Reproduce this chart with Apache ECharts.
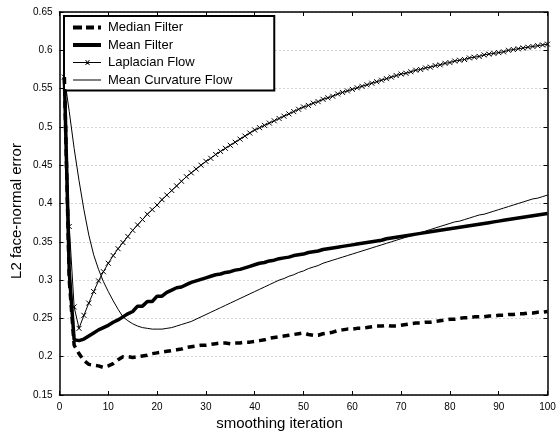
<!DOCTYPE html>
<html>
<head>
<meta charset="utf-8">
<script src="https://cdn.jsdelivr.net/npm/echarts@6/dist/echarts.min.js"></script>
<style>
  html, body { margin: 0; padding: 0; background: #fff; }
  #chart { width: 559px; height: 441px; }
</style>
</head>
<body>
<div id="chart"></div>
<script>
// smoothing iterations 1..100
const iterations = Array.from({ length: 100 }, (_, i) => i + 1);

const seriesNames = ['Median Filter', 'Mean Filter', 'Laplacian Flow', 'Mean Curvature Flow'];

const medianFilter = [
  0.565, 0.300, 0.215, 0.204, 0.195, 0.190, 0.189, 0.188, 0.186, 0.188,
  0.191, 0.196, 0.200, 0.200, 0.199, 0.200, 0.201, 0.202, 0.204, 0.205,
  0.206, 0.207, 0.208, 0.209, 0.210, 0.212, 0.213, 0.214, 0.215, 0.215,
  0.216, 0.217, 0.218, 0.218, 0.217, 0.218, 0.218, 0.219, 0.219, 0.220,
  0.221, 0.222, 0.224, 0.225, 0.226, 0.227, 0.228, 0.229, 0.230, 0.231,
  0.229, 0.228, 0.228, 0.230, 0.231, 0.232, 0.234, 0.235, 0.236, 0.236,
  0.237, 0.237, 0.238, 0.239, 0.240, 0.240, 0.241, 0.240, 0.240, 0.241,
  0.242, 0.243, 0.244, 0.244, 0.245, 0.245, 0.246, 0.247, 0.248, 0.249,
  0.249, 0.250, 0.251, 0.251, 0.252, 0.252, 0.252, 0.253, 0.253, 0.254,
  0.254, 0.255, 0.255, 0.256, 0.256, 0.257, 0.257, 0.258, 0.258, 0.259
];

const meanFilter = [
  0.565, 0.310, 0.222, 0.221, 0.223, 0.227, 0.231, 0.235, 0.238, 0.241,
  0.245, 0.248, 0.252, 0.256, 0.259, 0.266, 0.266, 0.272, 0.272, 0.279,
  0.279, 0.284, 0.287, 0.290, 0.291, 0.294, 0.297, 0.299, 0.301, 0.303,
  0.305, 0.307, 0.308, 0.310, 0.311, 0.313, 0.314, 0.316, 0.318, 0.320,
  0.322, 0.323, 0.325, 0.326, 0.328, 0.329, 0.330, 0.332, 0.333, 0.334,
  0.336, 0.337, 0.338, 0.340, 0.341, 0.342, 0.343, 0.344, 0.345, 0.346,
  0.347, 0.348, 0.349, 0.350, 0.351, 0.352, 0.354, 0.355, 0.356, 0.357,
  0.358, 0.359, 0.360, 0.361, 0.362, 0.363, 0.364, 0.365, 0.366, 0.367,
  0.368, 0.369, 0.370, 0.371, 0.372, 0.373, 0.374, 0.375, 0.376, 0.377,
  0.378, 0.379, 0.380, 0.381, 0.382, 0.383, 0.384, 0.385, 0.386, 0.387
];

const laplacianFlow = [
  0.565, 0.370, 0.265, 0.237, 0.254, 0.270, 0.285, 0.299, 0.311, 0.322,
  0.332, 0.341, 0.349, 0.357, 0.365, 0.372, 0.379, 0.386, 0.392, 0.398,
  0.405, 0.411, 0.417, 0.423, 0.429, 0.435, 0.440, 0.445, 0.450, 0.455,
  0.459, 0.464, 0.468, 0.472, 0.476, 0.480, 0.484, 0.488, 0.492, 0.496,
  0.499, 0.502, 0.505, 0.508, 0.511, 0.514, 0.517, 0.520, 0.523, 0.526,
  0.528, 0.531, 0.533, 0.536, 0.538, 0.540, 0.543, 0.545, 0.547, 0.549,
  0.551, 0.553, 0.555, 0.557, 0.559, 0.561, 0.563, 0.565, 0.567, 0.569,
  0.570, 0.572, 0.574, 0.575, 0.577, 0.578, 0.580, 0.581, 0.583, 0.584,
  0.586, 0.587, 0.588, 0.590, 0.591, 0.592, 0.594, 0.595, 0.596, 0.597,
  0.598, 0.600, 0.601, 0.602, 0.603, 0.604, 0.605, 0.606, 0.607, 0.608
];

const meanCurvatureFlow = [
  0.565, 0.520, 0.472, 0.430, 0.392, 0.359, 0.333, 0.314, 0.298, 0.285,
  0.273, 0.262, 0.252, 0.247, 0.243, 0.240, 0.238, 0.237, 0.236, 0.236,
  0.236, 0.237, 0.238, 0.240, 0.242, 0.244, 0.246, 0.249, 0.252, 0.255,
  0.258, 0.261, 0.264, 0.267, 0.270, 0.273, 0.276, 0.279, 0.282, 0.285,
  0.288, 0.291, 0.294, 0.297, 0.300, 0.302, 0.305, 0.307, 0.310, 0.312,
  0.315, 0.317, 0.319, 0.322, 0.324, 0.326, 0.328, 0.330, 0.332, 0.334,
  0.336, 0.338, 0.340, 0.342, 0.344, 0.346, 0.348, 0.350, 0.352, 0.354,
  0.356, 0.358, 0.360, 0.362, 0.364, 0.366, 0.368, 0.370, 0.372, 0.374,
  0.376, 0.377, 0.379, 0.381, 0.383, 0.385, 0.386, 0.388, 0.390, 0.392,
  0.394, 0.396, 0.398, 0.400, 0.402, 0.404, 0.406, 0.407, 0.409, 0.411
];

const yTickLabels = ['0.15', '0.2', '0.25', '0.3', '0.35', '0.4', '0.45', '0.5', '0.55', '0.6', '0.65'];
const xTickLabels = ['0', '10', '20', '30', '40', '50', '60', '70', '80', '90', '100'];

const FONT = '"Liberation Sans", Arial, Helvetica, sans-serif';

const pairs = arr => iterations.map((x, i) => [x, arr[i]]);

// legend samples, drawn as filled paths so no circle shows up
const legendIcons = [
  'path://M0,0h9v4h-9zM13,0h8v4h-8zM25,0h3v4h-3z',
  'path://M0,0h28v4h-28z',
  'path://M0,2h28v1h-28zM12,0h1l4,5h-1zM16,0h1l-4,5h-1z',
  'path://M0,0h28v1h-28z'
];

const chart = echarts.init(document.getElementById('chart'), null, { renderer: 'canvas' });

const axisLine = { show: true, onZero: false, lineStyle: { color: '#000', width: 1.5 } };
const innerTick = { show: true, inside: true, length: 4, lineStyle: { color: '#000', width: 1 } };

const option = {
  backgroundColor: '#fff',
  animation: false,
  textStyle: { fontFamily: FONT },
  grid: { left: 59.5, top: 12, right: 11.5, bottom: 46, containLabel: false },
  xAxis: [
    {
      type: 'value', min: 0, max: 100, interval: 10,
      axisLine: axisLine, axisTick: innerTick,
      axisLabel: {
        color: '#000', fontSize: 10, fontFamily: FONT, margin: 7,
        formatter: v => xTickLabels[Math.round(v / 10)]
      },
      splitLine: { show: false }
    },
    {
      type: 'value', position: 'top', min: 0, max: 100, interval: 10,
      axisLine: axisLine, axisTick: innerTick,
      axisLabel: { show: false }, splitLine: { show: false }
    }
  ],
  yAxis: [
    {
      type: 'value', min: 0.15, max: 0.65, interval: 0.05,
      axisLine: axisLine, axisTick: innerTick,
      axisLabel: {
        color: '#000', fontSize: 10, fontFamily: FONT, margin: 7,
        formatter: v => yTickLabels[Math.round((v - 0.15) / 0.05)]
      },
      splitLine: { show: true, lineStyle: { color: '#aaa', width: 1, type: [1, 3] } }
    },
    {
      type: 'value', position: 'right', min: 0.15, max: 0.65, interval: 0.05,
      axisLine: axisLine, axisTick: innerTick,
      axisLabel: { show: false }, splitLine: { show: false }
    }
  ],
  legend: {
    orient: 'vertical',
    left: 64, top: 16,
    data: seriesNames.map((name, i) => ({ name: name, icon: legendIcons[i] })),
    backgroundColor: '#fff',
    borderColor: '#000', borderWidth: 2, borderRadius: 0,
    padding: [5, 42, 4, 9],
    itemWidth: 28, itemHeight: 13, itemGap: 4.5,
    itemStyle: { color: '#000', borderWidth: 0 },
    textStyle: { color: '#000', fontSize: 13, fontFamily: FONT, padding: [0, 0, 0, 2] }
  },
  series: [
    {
      name: seriesNames[0], type: 'line', data: pairs(medianFilter),
      symbol: 'none', z: 4,
      lineStyle: { color: '#000', width: 3.5, type: [7, 5] },
      itemStyle: { color: '#000' }
    },
    {
      name: seriesNames[1], type: 'line', data: pairs(meanFilter),
      symbol: 'none', z: 3,
      lineStyle: { color: '#000', width: 3.5 },
      itemStyle: { color: '#000' }
    },
    {
      name: seriesNames[2], type: 'line', data: pairs(laplacianFlow),
      symbol: 'path://M0,0L10,10M0,10L10,0', symbolSize: 5, showSymbol: true,
      z: 2,
      lineStyle: { color: '#000', width: 1 },
      itemStyle: { color: 'rgba(0,0,0,0)', borderColor: '#000', borderWidth: 1 }
    },
    {
      name: seriesNames[3], type: 'line', data: pairs(meanCurvatureFlow),
      symbol: 'none', z: 1,
      lineStyle: { color: '#000', width: 1 },
      itemStyle: { color: '#000' }
    }
  ],
  graphic: [
    {
      type: 'text', left: 'center', top: 416,
      style: { text: 'smoothing iteration', fill: '#000', fontSize: 15, fontFamily: FONT }
    },
    {
      type: 'text', x: 17, y: 211, rotation: Math.PI / 2,
      style: {
        text: 'L2 face-normal error', fill: '#000', fontSize: 15, fontFamily: FONT,
        align: 'center', verticalAlign: 'middle'
      },
      originX: 0, originY: 0
    }
  ]
};

chart.setOption(option);
window.addEventListener('resize', () => chart.resize());
</script>
</body>
</html>
